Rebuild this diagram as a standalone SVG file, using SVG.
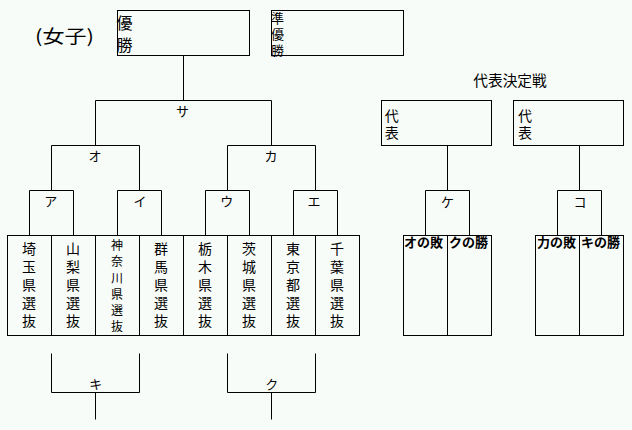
<svg xmlns="http://www.w3.org/2000/svg" width="632" height="430" viewBox="0 0 632 430">
<style>
text{font-family:"Noto Sans CJK JP","Noto Sans CJK SC",sans-serif;fill:#000}
.v{writing-mode:vertical-rl}
.box{fill:none;stroke:#000;stroke-width:1}
.ln{fill:none;stroke:#000;stroke-width:1}
.lbl{font-size:13px;text-anchor:middle}
.team{font-size:14px;letter-spacing:4px}
.team6{font-size:12px;letter-spacing:4.2px}
.b{font-size:13px;font-weight:bold}
.rep{font-size:14px;letter-spacing:3px}
</style>
<rect x="0" y="0" width="632" height="430" fill="#f8fcf8"/>

<g id="title"><text x="35" y="43" font-size="18px" textLength="59" lengthAdjust="spacingAndGlyphs">(女子)</text></g>

<g id="champion">
<rect class="box" x="117.5" y="10.5" width="132" height="45"/>
<text class="v" x="124.5" y="15" font-size="16px" letter-spacing="6px">優勝</text>
</g>
<g id="runner-up">
<rect class="box" x="271.5" y="10.5" width="132" height="45"/>
<text class="v" x="277.5" y="11.5" font-size="13px" letter-spacing="2.8px">準優勝</text>
</g>

<g id="playoff-title"><text x="510" y="85.5" font-size="14.7px" text-anchor="middle">代表決定戦</text></g>
<g id="rep1">
<rect class="box" x="381.5" y="100.5" width="110" height="45"/>
<text class="v rep" x="391.7" y="109">代表</text>
</g>
<g id="rep2">
<rect class="box" x="513.5" y="100.5" width="110" height="45"/>
<text class="v rep" x="525" y="109">代表</text>
</g>

<g id="connectors">
<path class="ln" d="M183.5 55.5V100.5M95.5 145.5V100.5H271.5V145.5"/>
<path class="ln" d="M29.5 235.5V190.5H73.5V235.5M51.5 190.5V145.5H139.5V190.5"/>
<path class="ln" d="M117.5 235.5V190.5H161.5V235.5"/>
<path class="ln" d="M205.5 235.5V190.5H249.5V235.5M227.5 190.5V145.5H315.5V190.5"/>
<path class="ln" d="M293.5 235.5V190.5H337.5V235.5"/>
<path class="ln" d="M51.5 353.5V392.5H139.5V353.5M95.5 392.5V419.5"/>
<path class="ln" d="M227.5 353.5V392.5H315.5V353.5M271.5 392.5V419.5"/>
<path class="ln" d="M447.5 145.5V190.5M425.5 235.5V190.5H469.5V235.5"/>
<path class="ln" d="M579.5 145.5V190.5M557.5 235.5V190.5H601.5V235.5"/>
</g>

<g id="match-sa"><text class="lbl" x="182.5" y="116">サ</text></g>
<g id="match-o"><text class="lbl" x="95" y="160.5">オ</text></g>
<g id="match-ka"><text class="lbl" x="271" y="160.8">カ</text></g>
<g id="match-a"><text class="lbl" x="50.8" y="205.8">ア</text></g>
<g id="match-i"><text class="lbl" x="140" y="205.8">イ</text></g>
<g id="match-u"><text class="lbl" x="226.7" y="205.8">ウ</text></g>
<g id="match-e"><text class="lbl" x="314" y="205.8">エ</text></g>
<g id="match-ki"><text class="lbl" x="95.8" y="389">キ</text></g>
<g id="match-ku"><text class="lbl" x="271.7" y="389">ク</text></g>
<g id="match-ke"><text class="lbl" x="447.5" y="207.3">ケ</text></g>
<g id="match-ko"><text class="lbl" x="580" y="207.3">コ</text></g>

<g id="team-saitama"><rect class="box" x="7.5" y="235.5" width="44" height="100"/><text class="v team" x="29" y="242">埼玉県選抜</text></g>
<g id="team-yamanashi"><rect class="box" x="51.5" y="235.5" width="44" height="100"/><text class="v team" x="73" y="242">山梨県選抜</text></g>
<g id="team-kanagawa"><rect class="box" x="95.5" y="235.5" width="44" height="100"/><text class="v team6" x="117" y="239.7">神奈川県選抜</text></g>
<g id="team-gunma"><rect class="box" x="139.5" y="235.5" width="44" height="100"/><text class="v team" x="161" y="242">群馬県選抜</text></g>
<g id="team-tochigi"><rect class="box" x="183.5" y="235.5" width="44" height="100"/><text class="v team" x="205" y="242">栃木県選抜</text></g>
<g id="team-ibaraki"><rect class="box" x="227.5" y="235.5" width="44" height="100"/><text class="v team" x="249" y="242">茨城県選抜</text></g>
<g id="team-tokyo"><rect class="box" x="271.5" y="235.5" width="44" height="100"/><text class="v team" x="293" y="242">東京都選抜</text></g>
<g id="team-chiba"><rect class="box" x="315.5" y="235.5" width="44" height="100"/><text class="v team" x="337" y="242">千葉県選抜</text></g>

<g id="slot-o-loser"><rect class="box" x="403.5" y="235.5" width="44" height="100"/><text class="b" x="404" y="247">オの敗</text></g>
<g id="slot-ku-winner"><rect class="box" x="447.5" y="235.5" width="44" height="100"/><text class="b" x="449" y="247">クの勝</text></g>
<g id="slot-ka-loser"><rect class="box" x="535.5" y="235.5" width="44" height="100"/><text class="b" x="537" y="247">力の敗</text></g>
<g id="slot-ki-winner"><rect class="box" x="579.5" y="235.5" width="44" height="100"/><text class="b" x="581" y="247">キの勝</text></g>
</svg>
